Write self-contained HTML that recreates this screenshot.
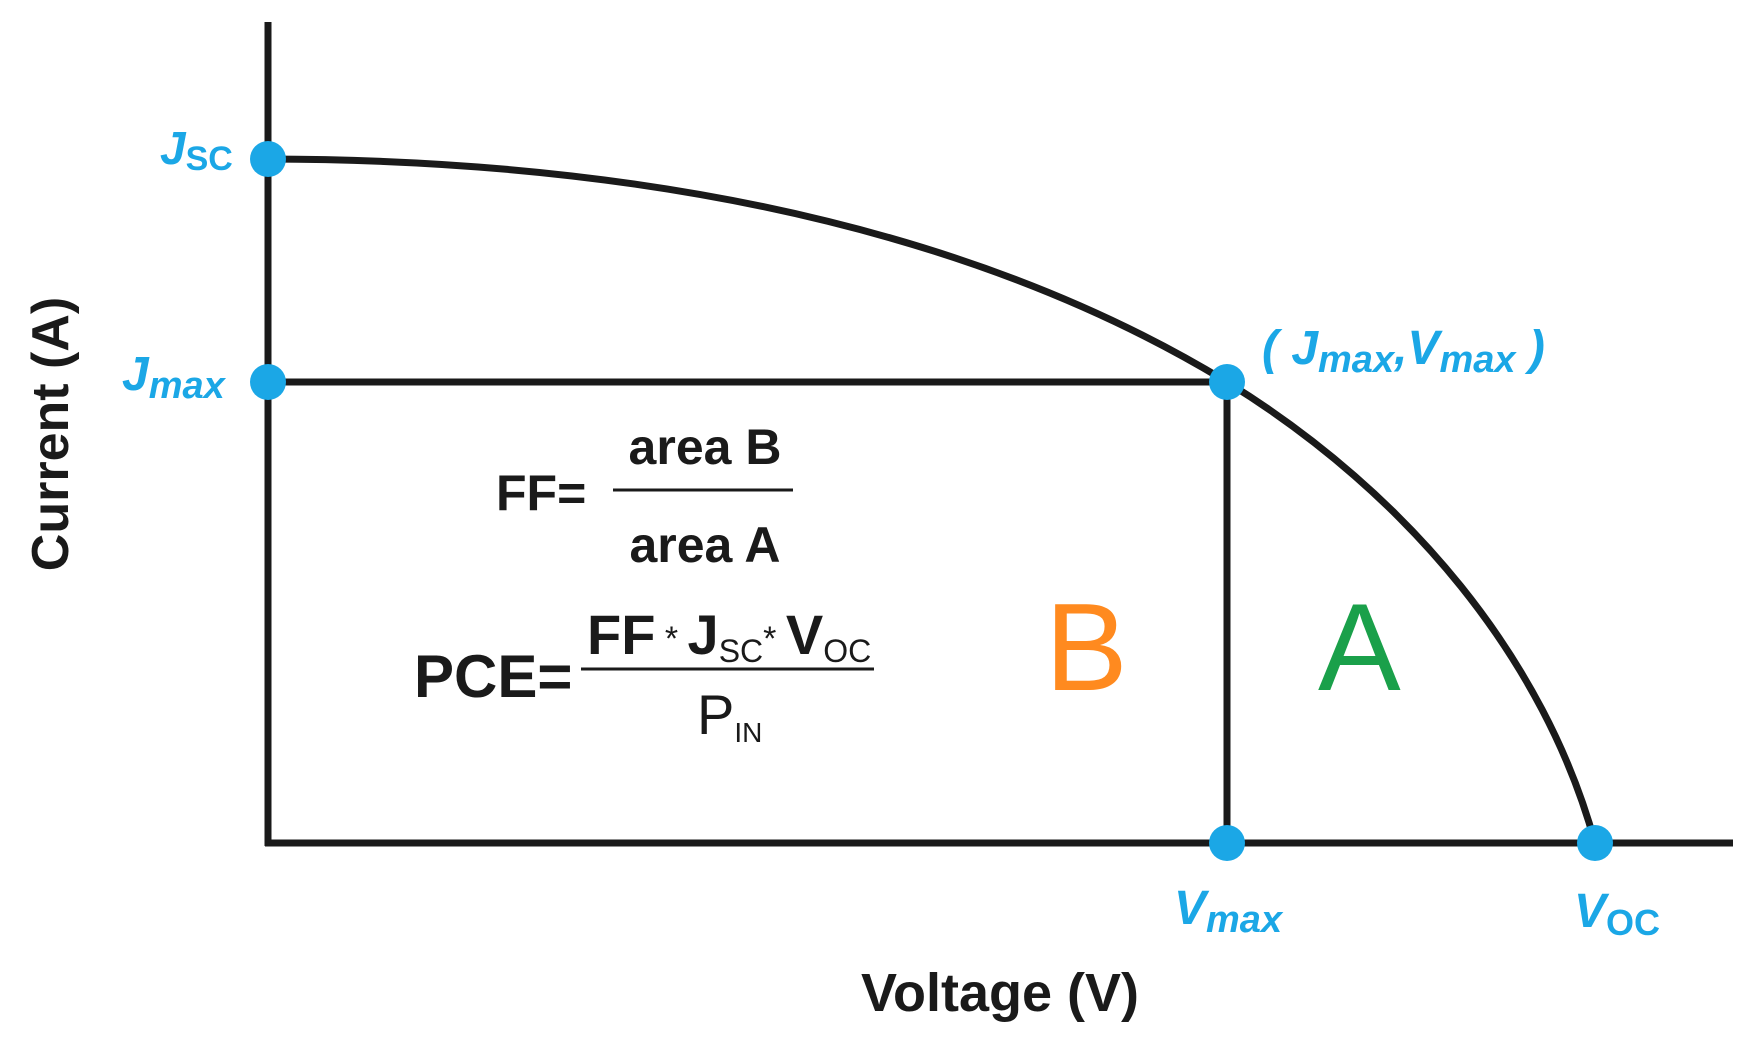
<!DOCTYPE html>
<html><head><meta charset="utf-8"><style>
html,body{margin:0;padding:0;background:#fff;}
svg{display:block;}
text{font-family:"Liberation Sans",Arial,sans-serif;}
.c{fill:#1ba7e6;font-weight:bold;font-style:italic;}
.k{fill:#1a1a1a;font-weight:bold;}
</style></head><body>
<svg width="1747" height="1045" viewBox="0 0 1747 1045" xmlns="http://www.w3.org/2000/svg">
<rect width="1747" height="1045" fill="#fff"/>
<g stroke="#1a1a1a" stroke-width="7" fill="none">
<line x1="268" y1="22" x2="268" y2="846"/>
<line x1="265" y1="843" x2="1733" y2="843"/>
<line x1="268" y1="382" x2="1227" y2="382"/>
<line x1="1227" y1="382" x2="1227" y2="843"/>
<path d="M268 159 C700 160 1010 250 1227 382 C1410 495 1545 660 1595 843"/>
</g>
<g fill="#1ba7e6">
<circle cx="268" cy="159" r="18"/>
<circle cx="268" cy="382" r="18"/>
<circle cx="1227" cy="382" r="18"/>
<circle cx="1227" cy="843" r="18"/>
<circle cx="1595" cy="843" r="18"/>
</g>
<text class="c" x="160" y="164" font-size="46">J<tspan font-size="34" dy="6" font-style="normal">SC</tspan></text>
<text class="c" x="122" y="390" font-size="48">J<tspan font-size="38" dy="8">max</tspan></text>
<text class="c" x="1262" y="364" font-size="48">( J<tspan font-size="38" dy="8">max</tspan><tspan dy="-8">,V</tspan><tspan font-size="38" dy="8">max</tspan><tspan dy="-8"> )</tspan></text>
<text class="c" x="1174" y="924" font-size="48">V<tspan font-size="38" dy="8">max</tspan></text>
<text class="c" x="1574" y="927" font-size="48">V<tspan font-size="36" dy="8" font-style="normal">OC</tspan></text>
<text class="k" font-size="52" transform="translate(68,434) rotate(-90)" text-anchor="middle">Current (A)</text>
<text class="k" font-size="54" x="1000" y="1011" text-anchor="middle">Voltage (V)</text>
<text class="k" font-size="50" x="496" y="510">FF=</text>
<text class="k" font-size="50" x="705" y="464" text-anchor="middle">area B</text>
<line x1="613" y1="490" x2="793" y2="490" stroke="#1a1a1a" stroke-width="3"/>
<text class="k" font-size="50" x="705" y="562" text-anchor="middle">area A</text>
<text class="k" font-size="60" x="414" y="697">PCE=</text>
<line x1="581" y1="669" x2="874" y2="669" stroke="#1a1a1a" stroke-width="3"/>
<text class="k" font-size="56" x="587" y="654">FF<tspan font-size="34" dy="-4" font-weight="normal"> * </tspan><tspan dy="4">J</tspan><tspan font-size="32" dy="8" font-weight="normal">SC</tspan><tspan font-size="34" dy="-12" font-weight="normal">* </tspan><tspan dy="4">V</tspan><tspan font-size="32" dy="8" font-weight="normal">OC</tspan></text>
<text font-size="56" x="697" y="734" fill="#1a1a1a">P<tspan font-size="28" dy="8">IN</tspan></text>
<text font-size="124" x="1045" y="690" fill="#ff8a1f">B</text>
<text font-size="124" x="1318" y="690" fill="#1aa04a">A</text>
</svg>
</body></html>
